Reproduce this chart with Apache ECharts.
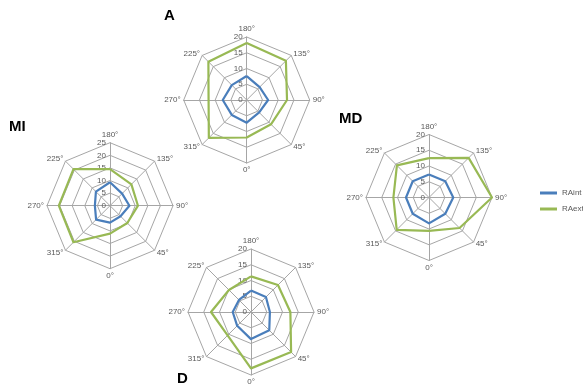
<!DOCTYPE html>
<html><head><meta charset="utf-8">
<script src="https://cdn.jsdelivr.net/npm/echarts/dist/echarts.min.js"></script>
<style>html,body{margin:0;padding:0;background:#fff}#c{width:583px;height:391px}</style>
</head><body><div id="c"></div>
<script>
// directions listed counterclockwise starting from the top vertex
const directions = ['180°','225°','270°','315°','0°','45°','90°','135°'];
const panelTitles = ['A','MI','MD','D'];
const panelMax = [20,25,20,20];
const seriesNames = ['RAint','RAext'];
const A_RAint  = [7.6, 6.7, 7.6, 6.7, 7.2, 5.6, 6.8, 5.8];
const A_RAext  = [18.1,17.2,12.1,17.0,11.9,10.9,12.8,17.6];
const MI_RAint = [9.3, 7.9, 6.0, 7.8, 6.7, 5.9, 7.7, 6.8];
const MI_RAext = [14.5,20.5,20.3,20.5,11.1,9.7,11.1,12.0];
const MD_RAint = [7.3, 7.3, 7.3, 7.3, 8.2, 7.3, 7.7, 7.3];
const MD_RAext = [12.5,14.4,11.3,14.5,10.6,13.7,20.0,17.8];
const D_RAint  = [6.8, 5.4, 5.8, 6.2, 8.6, 8.2, 6.0, 6.7];
const D_RAext  = [11.3,9.9,12.7,10.5,17.9,18.0,12.5,12.1];

const panelData = [[A_RAint,A_RAext],[MI_RAint,MI_RAext],[MD_RAint,MD_RAext],[D_RAint,D_RAext]];
const centers = [[246.7,100],[110,205.7],[429,197.5],[251,312]];
const titlePos = [[164,8],[9,119],[339,111],[177,371]];
const colors = ['#4A7EBB','#98B954'];
const gray = '#A6A6A6';
const txt = '#595959';
const FONT = 'Liberation Sans';

const radars = panelMax.map((mx,p)=>({
  center: centers[p],
  radius: 63,
  startAngle: 90,
  shape: 'polygon',
  splitNumber: mx/5,
  nameGap: 3,
  axisName: {color: txt, fontSize: 8, fontFamily: FONT},
  splitLine: {lineStyle: {color: gray, width: 1}},
  splitArea: {show: false},
  axisLine: {lineStyle: {color: gray, width: 1}},
  axisTick: {show: false},
  axisLabel: {show: false},
  indicator: directions.map((d,i)=>{
    const o = {name: d, min: 0, max: mx};
    if (i===0) o.axisLabel = {show: true, color: txt, fontSize: 8, fontFamily: FONT, margin: 4, showMinLabel: true, showMaxLabel: true};
    return o;
  })
}));

const series = panelData.map((vals,p)=>({
  type: 'radar',
  radarIndex: p,
  symbol: 'none',
  silent: true,
  data: vals.map((v,k)=>({
    name: seriesNames[k],
    value: v,
    lineStyle: {color: colors[k], width: 2.2},
    itemStyle: {color: colors[k]}
  }))
}));

const chart = echarts.init(document.getElementById('c'), null, {renderer:'canvas'});
chart.setOption({
  animation: false,
  backgroundColor: '#fff',
  title: panelTitles.map((t,p)=>({
    text: t, left: titlePos[p][0], top: titlePos[p][1], padding: 0,
    textStyle: {fontSize: 15, fontWeight: 'bold', color: '#000', fontFamily: FONT}
  })),
  legend: {
    orient: 'vertical', left: 540, top: 189, padding: 0,
    data: seriesNames,
    icon: 'rect', itemWidth: 17, itemHeight: 3, itemGap: 8,
    textStyle: {fontSize: 8, color: txt, fontFamily: FONT}
  },
  radar: radars,
  series: series
});
</script></body></html>
